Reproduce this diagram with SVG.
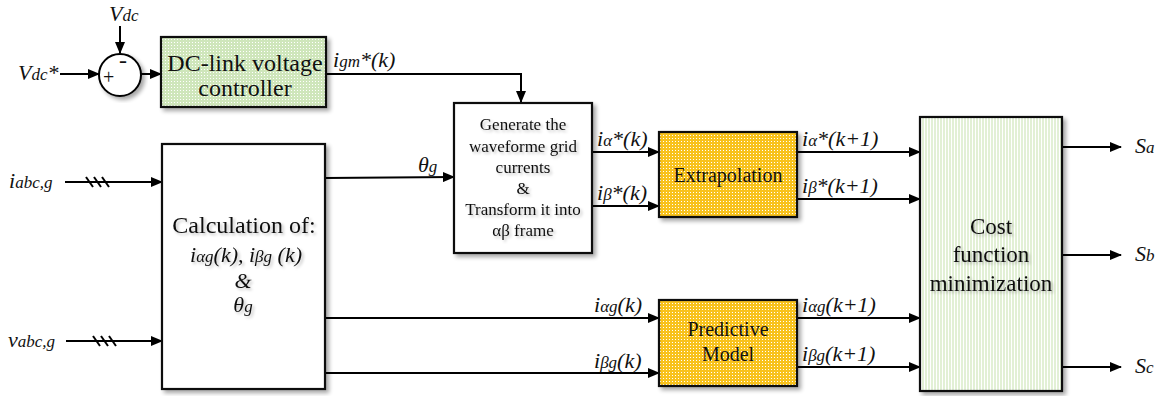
<svg xmlns="http://www.w3.org/2000/svg" width="1164" height="396" viewBox="0 0 1164 396" font-family="'Liberation Serif', serif">
  <style>
    .box { stroke: #111; stroke-width: 2.2; filter: url(#shadow); }
    .wire { fill: none; stroke: #000; stroke-width: 2; }
    .arr { marker-end: url(#ah); }
    .t { font-family: 'Liberation Serif', serif; fill: #111; }
    .lbl { font-family: 'Liberation Serif', serif; font-style: italic; font-size: 22px; fill: #111; }
    .sub { font-size: 17px; }
  </style>
  <defs>
    <marker id="ah" viewBox="0 0 12 10" refX="11" refY="5" markerWidth="12" markerHeight="10" markerUnits="userSpaceOnUse" orient="auto">
      <path d="M0,0 L12,5 L0,10 Z" fill="#000"/>
    </marker>
    <filter id="shadow" x="-10%" y="-10%" width="125%" height="125%">
      <feGaussianBlur in="SourceAlpha" stdDeviation="2"/>
      <feOffset dx="3" dy="3" result="b"/>
      <feComponentTransfer><feFuncA type="linear" slope="0.35"/></feComponentTransfer>
      <feMerge><feMergeNode/><feMergeNode in="SourceGraphic"/></feMerge>
    </filter>
    <filter id="tshadow" x="-10%" y="-30%" width="125%" height="170%">
      <feGaussianBlur in="SourceAlpha" stdDeviation="1.5"/>
      <feOffset dx="2" dy="2"/>
      <feComponentTransfer><feFuncA type="linear" slope="0.25"/></feComponentTransfer>
      <feMerge><feMergeNode/><feMergeNode in="SourceGraphic"/></feMerge>
    </filter>
    <pattern id="dotsGreen" width="3" height="3" patternUnits="userSpaceOnUse">
      <rect width="3" height="3" fill="#cfe6bb"/>
      <rect width="1" height="1" fill="#ffffff"/>
    </pattern>
    <pattern id="dotsPale" width="3" height="3" patternUnits="userSpaceOnUse">
      <rect width="3" height="3" fill="#e2f0d5"/>
      <rect width="1" height="3" fill="#ffffff"/>
    </pattern>
    <pattern id="dotsOrange" width="3" height="3" patternUnits="userSpaceOnUse">
      <rect width="3" height="3" fill="#f8c21c"/>
      <rect width="1" height="1" fill="#ffffff"/>
    </pattern>
  </defs>

  <rect width="1164" height="396" fill="#fff"/>

  <!-- connectors -->
  <g id="connectors">
    <!-- Vdc reference and feedback into summing junction -->
    <line class="wire arr" x1="60" y1="74" x2="99" y2="74"/>
    <line class="wire arr" x1="120" y1="26" x2="120" y2="53"/>
    <line class="wire arr" x1="141" y1="74" x2="161" y2="74"/>
    <!-- igm*(k) to waveform generator -->
    <polyline class="wire arr" points="326,74 521,74 521,102"/>
    <!-- measured inputs -->
    <line class="wire arr" x1="65" y1="182" x2="162" y2="182"/>
    <line class="wire arr" x1="66" y1="341" x2="162" y2="341"/>
    <!-- three-phase slashes -->
    <g stroke="#000" stroke-width="2">
      <line x1="86" y1="177" x2="93" y2="187"/>
      <line x1="94" y1="177" x2="101" y2="187"/>
      <line x1="102" y1="177" x2="109" y2="187"/>
      <line x1="93" y1="336" x2="100" y2="346"/>
      <line x1="101" y1="336" x2="108" y2="346"/>
      <line x1="109" y1="336" x2="116" y2="346"/>
    </g>
    <!-- theta_g -->
    <line class="wire arr" x1="325" y1="178" x2="454" y2="177"/>
    <!-- reference currents to extrapolation -->
    <line class="wire arr" x1="592" y1="152" x2="659" y2="152"/>
    <line class="wire arr" x1="592" y1="206" x2="659" y2="206"/>
    <!-- measured currents to predictive model -->
    <line class="wire arr" x1="325" y1="318" x2="659" y2="318"/>
    <line class="wire arr" x1="325" y1="373" x2="659" y2="373"/>
    <!-- into cost function -->
    <line class="wire arr" x1="797" y1="152" x2="920" y2="152"/>
    <line class="wire arr" x1="797" y1="199" x2="920" y2="199"/>
    <line class="wire arr" x1="797" y1="318" x2="920" y2="318"/>
    <line class="wire arr" x1="797" y1="367" x2="920" y2="367"/>
    <!-- switching outputs -->
    <line class="wire arr" x1="1062" y1="147" x2="1121" y2="147"/>
    <line class="wire arr" x1="1062" y1="255" x2="1121" y2="255"/>
    <line class="wire arr" x1="1062" y1="367" x2="1121" y2="367"/>
  </g>

  <!-- summing junction -->
  <g id="sum">
    <circle cx="120" cy="75" r="21" fill="#fff" stroke="#000" stroke-width="2" filter="url(#shadow)"/>
    <text class="t" x="103" y="84" font-size="20">+</text>
    <text class="t" x="119" y="68" font-size="24">-</text>
  </g>

  <g id="dc-controller">
    <rect class="box" x="161" y="37" width="165" height="70" fill="url(#dotsGreen)"/>
    <text class="t" x="245" y="71" font-size="24" text-anchor="middle">DC-link voltage</text>
    <text class="t" x="245" y="96" font-size="24" text-anchor="middle">controller</text>
  </g>

  <g id="generator">
    <rect class="box" x="454" y="103" width="138" height="150" fill="#fff"/>
    <g class="t" font-size="17" text-anchor="middle" filter="url(#tshadow)">
      <text x="523" y="130">Generate the</text>
      <text x="523" y="152">waveforme grid</text>
      <text x="523" y="173">currents</text>
      <text x="523" y="194">&amp;</text>
      <text x="523" y="215">Transform it into</text>
      <text x="523" y="236">αβ frame</text>
    </g>
  </g>

  <g id="calculation">
    <rect class="box" x="162" y="144" width="163" height="245" fill="#fff"/>
    <g filter="url(#tshadow)">
      <text class="t" x="244" y="233" font-size="24" text-anchor="middle">Calculation of:</text>
      <text class="lbl" x="246" y="262" text-anchor="middle">i<tspan class="sub">αg</tspan>(k), i<tspan class="sub">βg</tspan> (k)</text>
      <text class="lbl" x="243" y="288" text-anchor="middle">&amp;</text>
      <text class="lbl" x="243" y="312" text-anchor="middle">θ<tspan class="sub">g</tspan></text>
    </g>
  </g>

  <g id="extrapolation">
    <rect class="box" x="659" y="132" width="138" height="85" fill="url(#dotsOrange)"/>
    <text class="t" x="728" y="182" font-size="20" text-anchor="middle">Extrapolation</text>
  </g>

  <g id="predictive-model">
    <rect class="box" x="659" y="300" width="138" height="86" fill="url(#dotsOrange)"/>
    <text class="t" x="728" y="336" font-size="20" text-anchor="middle">Predictive</text>
    <text class="t" x="728" y="361" font-size="20" text-anchor="middle">Model</text>
  </g>

  <g id="cost-function">
    <rect class="box" x="920" y="117" width="142" height="274" fill="url(#dotsPale)"/>
    <g class="t" font-size="23" text-anchor="middle" filter="url(#tshadow)">
      <text x="991" y="234">Cost</text>
      <text x="991" y="262">function</text>
      <text x="991" y="291">minimization</text>
    </g>
  </g>

  <!-- signal labels -->
  <g id="labels">
    <text class="lbl" x="109" y="21">V<tspan class="sub">dc</tspan></text>
    <text class="lbl" x="18" y="80">V<tspan class="sub">dc</tspan>*</text>
    <text class="lbl" x="333" y="67">i<tspan class="sub">gm</tspan>*(k)</text>
    <text class="lbl" x="9" y="188">i<tspan class="sub">abc,g</tspan></text>
    <text class="lbl" x="8" y="347">v<tspan class="sub">abc,g</tspan></text>
    <text class="lbl" x="418" y="172">θ<tspan class="sub">g</tspan></text>
    <text class="lbl" x="597" y="146">i<tspan class="sub">α</tspan>*(k)</text>
    <text class="lbl" x="597" y="200">i<tspan class="sub">β</tspan>*(k)</text>
    <text class="lbl" x="594" y="312">i<tspan class="sub">αg</tspan>(k)</text>
    <text class="lbl" x="594" y="368">i<tspan class="sub">βg</tspan>(k)</text>
    <text class="lbl" x="802" y="146">i<tspan class="sub">α</tspan>*(k+1)</text>
    <text class="lbl" x="802" y="193">i<tspan class="sub">β</tspan>*(k+1)</text>
    <text class="lbl" x="802" y="312">i<tspan class="sub">αg</tspan>(k+1)</text>
    <text class="lbl" x="802" y="361">i<tspan class="sub">βg</tspan>(k+1)</text>
    <text class="lbl" x="1135" y="153">S<tspan class="sub">a</tspan></text>
    <text class="lbl" x="1135" y="261">S<tspan class="sub">b</tspan></text>
    <text class="lbl" x="1135" y="373">S<tspan class="sub">c</tspan></text>
  </g>
</svg>
